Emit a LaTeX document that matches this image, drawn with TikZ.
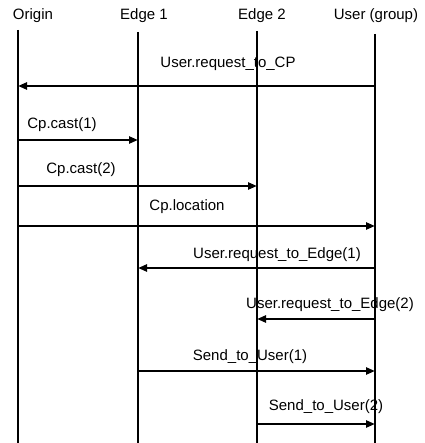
\documentclass[tikz,border=0pt]{standalone}
\usepackage{fontspec}
\setmainfont{Liberation Sans}
\usetikzlibrary{arrows.meta}
\begin{document}
\begin{tikzpicture}[x=1bp,y=-1bp,
  lifeline/.style={line width=2bp,black},
  msg/.style={line width=2.4bp,-{Triangle[length=9bp,width=7bp]}},
  lbl/.style={inner sep=0pt,font=\fontsize{15bp}{17bp}\selectfont},
  hdr/.style={inner sep=0pt,anchor=base,font=\fontsize{15bp}{17bp}\selectfont}]
\useasboundingbox (0,0) rectangle (424,443);
% headers
\node[hdr] (hO) at (33,20) {Origin};
\node[hdr] (hE1) at (144,20) {Edge 1};
\node[hdr] (hE2) at (262,20) {Edge 2};
\node[hdr] (hU) at (376,20) {User (group)};
% lifelines
\coordinate (Ot) at (18,30);  \coordinate (Ob) at (18,443);
\coordinate (E1t) at (138,32); \coordinate (E1b) at (138,443);
\coordinate (E2t) at (257,31); \coordinate (E2b) at (257,443);
\coordinate (Ut) at (375,34);  \coordinate (Ub) at (375,443);
\draw[lifeline,line width=2.4bp] (Ot) -- (Ob);
\draw[lifeline] (E1t) -- (E1b);
\draw[lifeline] (E2t) -- (E2b);
\draw[lifeline] (Ut) -- (Ub);
% message endpoints
\coordinate (m1a) at (375,86);  \coordinate (m1b) at (18,86);
\coordinate (m2a) at (18,140);  \coordinate (m2b) at (138,140);
\coordinate (m3a) at (18,186);  \coordinate (m3b) at (257,186);
\coordinate (m4a) at (18,226);  \coordinate (m4b) at (375,226);
\coordinate (m5a) at (375,268); \coordinate (m5b) at (138,268);
\coordinate (m6a) at (375,319); \coordinate (m6b) at (257,319);
\coordinate (m7a) at (138,371); \coordinate (m7b) at (375,371);
\coordinate (m8a) at (257,424); \coordinate (m8b) at (375,424);
\draw[msg] (m1a) -- (m1b);
\draw[msg] (m2a) -- (m2b);
\draw[msg] (m3a) -- (m3b);
\draw[msg] (m4a) -- (m4b);
\draw[msg] (m5a) -- (m5b);
\draw[msg] (m6a) -- (m6b);
\draw[msg] (m7a) -- (m7b);
\draw[msg] (m8a) -- (m8b);
% labels
\node[lbl] (l1) at (228,64) {User.request\_to\_CP};
\node[lbl] (l2) at (62,125) {Cp.cast(1)};
\node[lbl] (l3) at (81,170) {Cp.cast(2)};
\node[lbl] (l4) at (187,207) {Cp.location};
\node[lbl] (l5) at (277,255) {User.request\_to\_Edge(1)};
\node[lbl] (l6) at (330,305) {User.request\_to\_Edge(2)};
\node[lbl] (l7) at (250,357) {Send\_to\_User(1)};
\node[lbl] (l8) at (326,407) {Send\_to\_User(2)};
\end{tikzpicture}
\end{document}
